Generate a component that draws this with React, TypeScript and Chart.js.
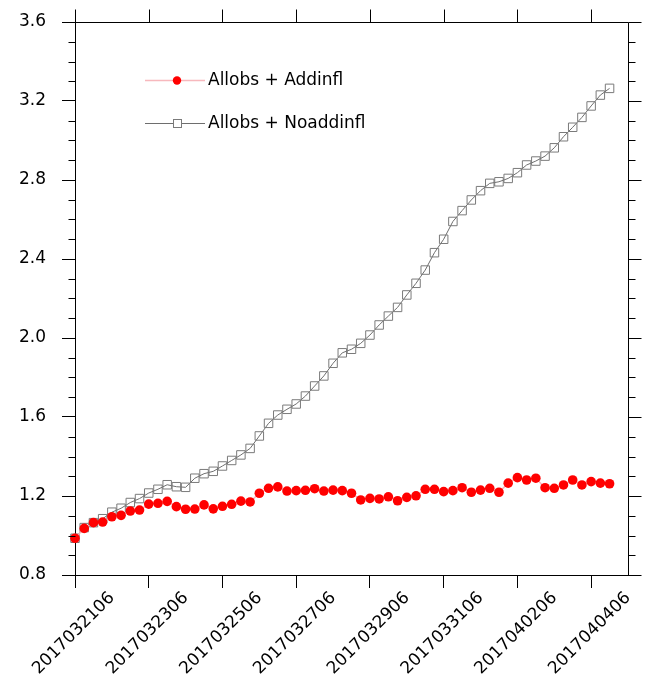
import React, { useEffect, useRef } from "react";
import { Chart, registerables } from "chart.js";

Chart.register(...registerables);

const dateLabels = [
  "2017032106", "2017032306", "2017032506", "2017032706",
  "2017032906", "2017033106", "2017040206", "2017040406",
];

const seriesNames = ["Allobs + Addinfl", "Allobs + Noaddinfl"];

const addinfl = [
  0.986, 1.036, 1.065, 1.068, 1.095, 1.102, 1.124, 1.129, 1.159, 1.163,
  1.173, 1.146, 1.133, 1.134, 1.155, 1.135, 1.148, 1.158, 1.174, 1.170,
  1.214, 1.239, 1.246, 1.225, 1.227, 1.229, 1.237, 1.225, 1.230, 1.227,
  1.214, 1.180, 1.188, 1.185, 1.196, 1.176, 1.193, 1.201, 1.234, 1.234,
  1.222, 1.227, 1.242, 1.219, 1.230, 1.239, 1.219, 1.265, 1.293, 1.281,
  1.290, 1.242, 1.239, 1.256, 1.281, 1.256, 1.273, 1.265, 1.262,
];

const noaddinfl = [
  0.986, 1.040, 1.065, 1.085, 1.118, 1.138, 1.167, 1.187, 1.215, 1.234,
  1.257, 1.247, 1.244, 1.290, 1.313, 1.325, 1.352, 1.380, 1.408, 1.441,
  1.504, 1.568, 1.610, 1.639, 1.666, 1.706, 1.757, 1.808, 1.872, 1.925,
  1.943, 1.973, 2.015, 2.066, 2.111, 2.155, 2.218, 2.277, 2.344, 2.432,
  2.500, 2.590, 2.645, 2.699, 2.746, 2.783, 2.791, 2.808, 2.837, 2.876,
  2.896, 2.921, 2.963, 3.019, 3.067, 3.117, 3.175, 3.230, 3.264,
];

const X_MAX = 60; // 6-hourly steps, 15 days
const X_STEP = 8; // label every 2 days
const Y_MIN = 0.8;
const Y_MAX = 3.6;
const Y_MAJOR = 0.4;

const FONT = "'DejaVu Sans', sans-serif";

const framePlugin = {
  id: "frameTicks",
  afterDraw(chart: any) {
    const { ctx, chartArea } = chart;
    const { left, right, top, bottom } = chartArea;
    const ys = chart.scales.y;
    const xs = chart.scales.x;
    ctx.save();
    ctx.strokeStyle = "#000";
    ctx.lineWidth = 1;
    const r = (v: number) => Math.round(v) + 0.5;
    ctx.beginPath();
    ctx.moveTo(r(left), r(top));
    ctx.lineTo(r(right), r(top));
    ctx.moveTo(r(right), r(top));
    ctx.lineTo(r(right), r(bottom));
    const kMin = Math.round(Y_MIN * 10);
    const kMax = Math.round(Y_MAX * 10);
    const majorK = Math.round(Y_MAJOR * 10);
    for (let k = kMin; k <= kMax; k++) {
      const py = r(ys.getPixelForValue(k / 10));
      const major = (k - kMin) % majorK === 0;
      if (!major) {
        ctx.moveTo(r(left) - 7, py);
        ctx.lineTo(r(left), py);
      }
      ctx.moveTo(r(right), py);
      ctx.lineTo(r(right) + (major ? 13 : 7), py);
    }
    for (let v = 0; v < X_MAX; v += X_STEP) {
      const px = r(xs.getPixelForValue(v));
      ctx.moveTo(px, r(top));
      ctx.lineTo(px, r(top) - 13);
    }
    ctx.stroke();
    ctx.restore();
  },
};

const legendPlugin = {
  id: "inlineLegend",
  afterDraw(chart: any) {
    const { ctx } = chart;
    const rows = [80, 123];
    const x0 = 145;
    const x1 = 205;
    const xm = 177;
    ctx.save();
    chart.data.datasets.forEach((ds: any, i: number) => {
      const y = rows[i];
      ctx.strokeStyle = ds.borderColor;
      ctx.lineWidth = ds.borderWidth;
      ctx.beginPath();
      ctx.moveTo(x0, y + 0.5);
      ctx.lineTo(x1, y + 0.5);
      ctx.stroke();
      if (ds.pointStyle === "circle") {
        ctx.fillStyle = ds.pointBackgroundColor;
        ctx.beginPath();
        ctx.arc(xm, y + 0.5, 4.2, 0, Math.PI * 2);
        ctx.fill();
      } else {
        ctx.strokeStyle = ds.pointBorderColor;
        ctx.lineWidth = 1;
        ctx.fillStyle = "#fff";
        ctx.fillRect(xm - 4, y - 3.5, 8, 8);
        ctx.strokeRect(xm - 3.5, y - 3.5, 8, 8);
      }
      ctx.fillStyle = "#000";
      ctx.font = `17px ${FONT}`;
      ctx.textAlign = "left";
      ctx.textBaseline = "middle";
      ctx.fillText(ds.label, 208, y + 1);
    });
    ctx.restore();
  },
};

export default function App() {
  const ref = useRef<HTMLCanvasElement | null>(null);

  useEffect(() => {
    if (!ref.current) return;
    const chart = new Chart(ref.current, {
      type: "line",
      data: {
        datasets: [
          {
            label: seriesNames[0],
            data: addinfl.map((v, i) => ({ x: i, y: v })),
            borderColor: "#f7b8bd",
            borderWidth: 1.5,
            pointStyle: "circle",
            pointRadius: 4.8,
            pointBackgroundColor: "#ff0000",
            pointBorderColor: "#ff0000",
            pointBorderWidth: 0,
            tension: 0,
            clip: false,
          },
          {
            label: seriesNames[1],
            data: noaddinfl.map((v, i) => ({ x: i, y: v })),
            borderColor: "#6e6e6e",
            borderWidth: 1,
            pointStyle: "rect",
            pointRadius: 6,
            pointBackgroundColor: "rgba(0,0,0,0)",
            pointBorderColor: "#7a7a7a",
            pointBorderWidth: 1,
            tension: 0,
            clip: false,
          },
        ] as any,
      },
      options: {
        animation: false,
        responsive: false,
        devicePixelRatio: 1,
        layout: { padding: { top: 22, right: 18, left: 0, bottom: 0 } },
        plugins: {
          legend: { display: false },
          tooltip: { enabled: false },
        },
        scales: {
          x: {
            type: "linear",
            min: 0,
            max: X_MAX,
            afterFit: (s: any) => {
              s.height = 100;
              s.paddingLeft = 0;
              s.paddingRight = 0;
            },
            ticks: {
              stepSize: X_STEP,
              includeBounds: false,
              autoSkip: false,
              minRotation: 45,
              maxRotation: 45,
              labelOffset: 37,
              padding: 0,
              color: "#000",
              font: { family: FONT, size: 17 },
              callback: (v: any) => {
                const idx = Math.round(Number(v) / X_STEP);
                return dateLabels[idx] ?? "";
              },
            },
            grid: {
              drawOnChartArea: false,
              drawTicks: true,
              tickLength: 13,
              color: "#000",
              tickColor: "#000",
            },
            border: { display: true, color: "#000", width: 1 },
          },
          y: {
            type: "linear",
            min: Y_MIN,
            max: Y_MAX,
            afterFit: (s: any) => {
              s.width = 75;
              s.paddingTop = 0;
              s.paddingBottom = 0;
            },
            ticks: {
              stepSize: Y_MAJOR,
              padding: 16,
              color: "#000",
              font: { family: FONT, size: 17 },
              callback: (v: any) => Number(v).toFixed(1),
            },
            grid: {
              drawOnChartArea: false,
              drawTicks: true,
              tickLength: 13,
              color: "#000",
              tickColor: "#000",
            },
            border: { display: true, color: "#000", width: 1 },
          },
        },
      } as any,
      plugins: [framePlugin, legendPlugin],
    });
    return () => chart.destroy();
  }, []);

  return (
    <div
      style={{
        position: "absolute",
        left: 0,
        top: 0,
        width: 646,
        height: 675,
        background: "#fff",
      }}
    >
      <canvas ref={ref} width={646} height={675} />
    </div>
  );
}
